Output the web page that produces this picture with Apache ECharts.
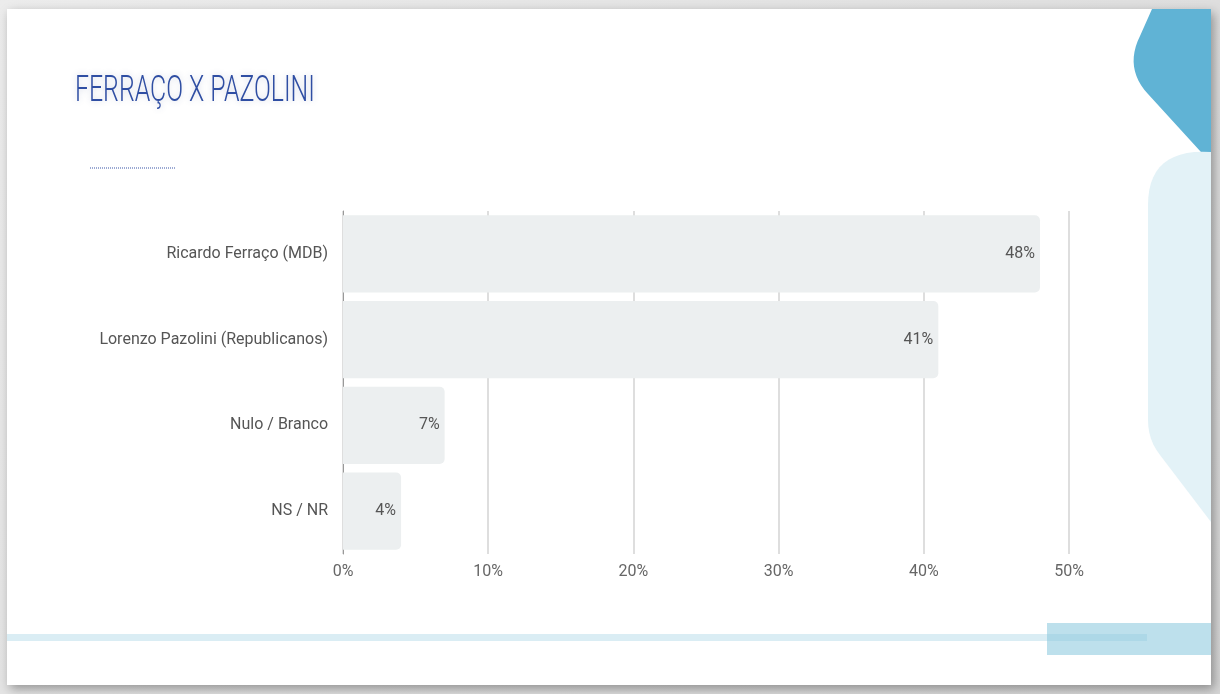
<!DOCTYPE html>
<html>
<head>
<meta charset="utf-8">
<script src="https://cdn.jsdelivr.net/npm/echarts@6/dist/echarts.min.js"></script>
<style>
  html, body { margin: 0; padding: 0; width: 1220px; height: 694px; overflow: hidden;
    background: linear-gradient(135deg, #ececec 0%, #d6d6d6 100%); }
  #slide { position: absolute; left: 7px; top: 9px; width: 1204px; height: 676px; background: #fff;
    box-shadow: 3px 4px 10px rgba(0,0,0,0.35); }
</style>
</head>
<body>
<div id="slide"></div>
<script>
const titleText = 'FERRAÇO X PAZOLINI';
const categories = ['Ricardo Ferraço (MDB)', 'Lorenzo Pazolini (Republicanos)', 'Nulo / Branco', 'NS / NR'];
const values = [48, 41, 7, 4];
const axisMax = 50;
const axisStep = 10;

const FONT = "Roboto, 'Liberation Sans', sans-serif";
const OX = 7, OY = 9; // slide offset in page

// decorative shape outline helper (quadratic curve sampling), in page coords
function quad(p0, c, p1, n) {
  const out = [];
  for (let i = 1; i <= n; i++) {
    const t = i / n, u = 1 - t;
    out.push([u*u*p0[0] + 2*u*t*c[0] + t*t*p1[0], u*u*p0[1] + 2*u*t*c[1] + t*t*p1[1]]);
  }
  return out;
}
function shift(pts) { return pts.map(p => [p[0] - OX, p[1] - OY]); }

const darkShape = shift([[1152, 9], [1211, 9], [1211, 163], [1148, 94]]
  .concat(quad([1148, 94], [1124, 68], [1140, 36], 12)).concat([[1152, 9]]));
const lightShape = shift([[1211, 152]]
  .concat(quad([1211, 152], [1148, 148], [1148, 205], 14))
  .concat([[1148, 420]])
  .concat(quad([1148, 420], [1148, 440], [1160, 455], 6))
  .concat([[1211, 522]]));

const chart = echarts.init(document.getElementById('slide'), null, { renderer: 'canvas' });
chart.setOption({
  backgroundColor: '#ffffff',
  animation: false,
  graphic: [
    { type: 'polygon', silent: true, z: -10, shape: { points: darkShape }, style: { fill: '#60b3d5' } },
    { type: 'polygon', silent: true, z: -10, shape: { points: lightShape }, style: { fill: '#e3f2f7' } },
    { type: 'rect', silent: true, z: -10,
      shape: { x: 1047-OX, y: 623-OY, width: 1211-1047, height: 32 },
      style: { fill: '#bde0ec' } },
    { type: 'rect', silent: true, z: -9,
      shape: { x: 0, y: 634-OY, width: 1147-OX, height: 7 },
      style: { fill: 'rgba(140,200,222,0.32)' } },
    { type: 'line', silent: true,
      shape: { x1: 90-OX, y1: 168-OY, x2: 176-OX, y2: 168-OY },
      style: { stroke: '#3a56a8', lineWidth: 1, lineDash: [1, 1] } },
    { type: 'text', silent: true, x: 75-OX, y: 92-OY, scaleX: 0.69,
      style: { text: titleText, fontFamily: FONT, fontSize: 36, fontWeight: 300,
        fill: '#2f4ea3', verticalAlign: 'middle', align: 'left',
        textShadowColor: 'rgba(60,80,140,0.25)', textShadowBlur: 6 } }
  ],
  grid: { left: 343-OX, right: 1211-1069, top: 211-OY, bottom: 685-554, containLabel: false },
  xAxis: {
    type: 'value', min: 0, max: axisMax, interval: axisStep,
    axisLine: { show: false }, axisTick: { show: false },
    axisLabel: { formatter: '{value}%', margin: 10, color: '#666', fontSize: 16, fontFamily: FONT },
    splitLine: { show: true, lineStyle: { color: '#dedede', width: 2 } }
  },
  yAxis: {
    type: 'category', data: categories, inverse: true,
    axisLine: { show: true, lineStyle: { color: '#999', width: 1 } },
    axisTick: { show: false },
    axisLabel: { margin: 15, color: '#555', fontSize: 16, fontFamily: FONT }
  },
  series: [{
    type: 'bar', data: values, barWidth: '90%',
    itemStyle: { color: '#eceff0', borderRadius: [0, 5, 5, 0] },
    label: { show: true, position: 'insideRight', distance: 5, formatter: '{c}%',
      color: '#555', fontSize: 16, fontFamily: FONT }
  }]
});
</script>
</body>
</html>
